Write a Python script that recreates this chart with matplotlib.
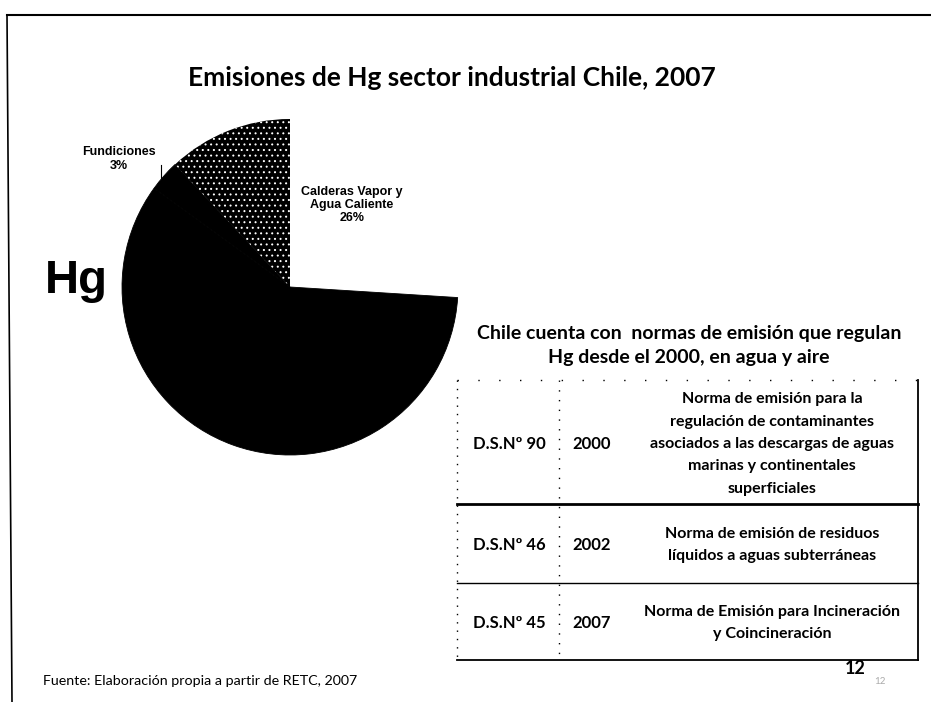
import matplotlib.pyplot as plt

# sector shares (%), clockwise from 12 o'clock
sectors = ['Calderas Vapor y\nAgua Caliente', '', 'Fundiciones', '']
shares = [26, 59, 3, 12]
pct_labels = ['26%', '', '3%', '']

# emission standards table
codes = ['D.S.Nº 90', 'D.S.Nº 46', 'D.S.Nº 45']
years = ['2000', '2002', '2007']
descriptions = [
    'Norma de emisión para la\nregulación de contaminantes\nasociados a las descargas de aguas\nmarinas y continentales\nsuperficiales',
    'Norma de emisión de residuos\nlíquidos a aguas subterráneas',
    'Norma de Emisión para Incineración\ny Coincineración',
]

W, H = 931, 702
fig = plt.figure(figsize=(W / 100, H / 100), dpi=100)
fig.patch.set_facecolor('white')

# pie axes sits underneath the text layer
cx, cy, r = 290, 287, 168
pie_ax = fig.add_axes([(cx - r) / W, (H - cy - r) / H, 2 * r / W, 2 * r / H])
pie_ax.set_zorder(0)
plt.rcParams['hatch.linewidth'] = 0.7
wedges, _ = pie_ax.pie(shares, startangle=90, counterclock=False,
                       colors=['white', 'black', 'black', 'black'],
                       wedgeprops=dict(linewidth=0.6, edgecolor='black'))
wedges[0].set_edgecolor('white')
wedges[0].set_linewidth(0)
wedges[3].set_edgecolor('white')
wedges[3].set_linewidth(0)
wedges[3].set_hatch('...')
pie_ax.set_xlim(-1, 1)
pie_ax.set_ylim(-1, 1)
pie_ax.set_aspect('auto')
pie_ax.axis('off')

# text layer in pixel units (y down)
bg = fig.add_axes([0, 0, 1, 1])
bg.set_zorder(1)
bg.set_xlim(0, W)
bg.set_ylim(H, 0)
bg.axis('off')

# slide frame (slightly skewed left edge)
bg.plot([7, 12], [15, H], color='black', lw=1.2)
bg.plot([7, W], [15, 15], color='black', lw=1.5)

font = 'Lato'
bg.text(452, 78, 'Emisiones de Hg sector industrial Chile, 2007',
        ha='center', va='center', fontsize=19, fontweight='bold', family=font)
bg.text(76, 281, 'Hg', ha='center', va='center', fontsize=34,
        fontweight='bold', family='Liberation Sans')

bg.text(352, 205, sectors[0] + '\n' + pct_labels[0], ha='center', va='center',
        fontsize=9, fontweight='bold', family='Liberation Sans', linespacing=1.15)
bg.text(119, 159, sectors[2] + '\n' + pct_labels[2], ha='center', va='center',
        fontsize=9, fontweight='bold', family='Liberation Sans', linespacing=1.15)
bg.plot([161, 161], [165, 178], color='black', lw=0.8)

# table heading
bg.text(689, 345, 'Chile cuenta con  normas de emisión que regulan\nHg desde el 2000, en agua y aire',
        ha='center', va='center', fontsize=14, fontweight='bold',
        family=font, linespacing=1.5)

# table grid
x_left, x_mid, x_right = 457, 559, 918
row_edges = [380, 504, 583, 660]
bg.plot([x_left, x_right], [row_edges[0]] * 2, color='black', lw=1, ls=(0, (1, 14)))
bg.plot([x_left, x_left], [row_edges[0], row_edges[-1]], color='black', lw=1, ls=(0, (1, 5)))
bg.plot([x_mid, x_mid], [row_edges[0], row_edges[-1]], color='black', lw=1, ls=(0, (1, 6)))
bg.plot([x_right, x_right], [row_edges[0], row_edges[-1]], color='black', lw=1.3)
bg.plot([x_left, x_right], [row_edges[1]] * 2, color='black', lw=2)
bg.plot([x_left, x_right], [row_edges[2]] * 2, color='black', lw=1)
bg.plot([x_left, x_right], [row_edges[3]] * 2, color='black', lw=1.3)

row_centers = [444, 545, 623]
for code, year, desc, yc in zip(codes, years, descriptions, row_centers):
    bg.text(509, yc, code, ha='center', va='center', fontsize=12,
            fontweight='bold', family=font)
    bg.text(592, yc, year, ha='center', va='center', fontsize=12,
            fontweight='bold', family=font)
    bg.text(772, yc, desc, ha='center', va='center', fontsize=11.5,
            fontweight='bold', family=font, linespacing=1.75)

# footer and slide number
bg.text(43, 681, 'Fuente: Elaboración propia a partir de RETC, 2007', ha='left',
        va='center', fontsize=10.3, family=font)
bg.text(855, 668, '12', ha='center', va='center', fontsize=13,
        fontweight='bold', family=font)
bg.text(880, 682, '12', ha='center', va='center', fontsize=7, color='#aaaaaa',
        family=font)

fig.savefig('out.png', dpi=100)
